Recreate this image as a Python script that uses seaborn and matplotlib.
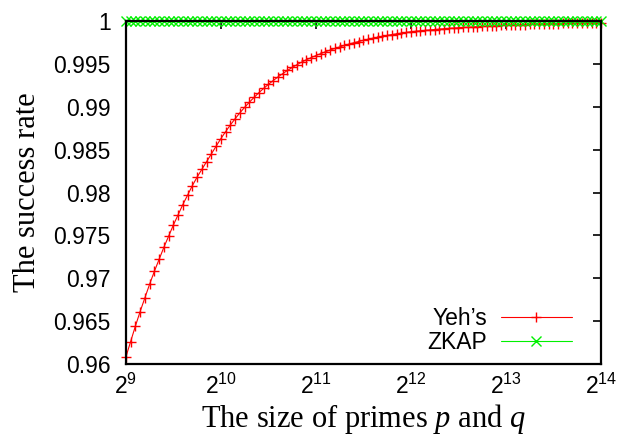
import numpy as np
import matplotlib
matplotlib.use("Agg")
import matplotlib.pyplot as plt
import seaborn as sns
from matplotlib.ticker import FixedLocator, FuncFormatter

# exponent grid of the prime size (2^9 .. 2^14, 101 samples)
exponent = np.linspace(9, 14, 101)
size = 2 ** exponent

yeh = [0.96080, 0.96260, 0.96440, 0.96610, 0.96770, 0.96930, 0.97080, 0.97220, 0.97360, 0.97490,
       0.97620, 0.97740, 0.97860, 0.97970, 0.98080, 0.98180, 0.98270, 0.98360, 0.98450, 0.98540,
       0.98628, 0.98710, 0.98788, 0.98860, 0.98929, 0.98993, 0.99053, 0.99110, 0.99164, 0.99214,
       0.99261, 0.99305, 0.99347, 0.99386, 0.99423, 0.99458, 0.99490, 0.99521, 0.99548, 0.99573,
       0.99597, 0.99620, 0.99641, 0.99661, 0.99680, 0.99698, 0.99715, 0.99732, 0.99747, 0.99761,
       0.99775, 0.99788, 0.99800, 0.99811, 0.99822, 0.99832, 0.99842, 0.99851, 0.99859, 0.99867,
       0.99875, 0.99881, 0.99886, 0.99891, 0.99896, 0.99901, 0.99905, 0.99910, 0.99914, 0.99918,
       0.99921, 0.99925, 0.99928, 0.99931, 0.99934, 0.99937, 0.99940, 0.99943, 0.99945, 0.99948,
       0.99950, 0.99952, 0.99955, 0.99957, 0.99959, 0.99960, 0.99962, 0.99964, 0.99966, 0.99967,
       0.99969, 0.99970, 0.99972, 0.99973, 0.99974, 0.99975, 0.99976, 0.99977, 0.99978, 0.99979,
       0.99980]
zkap = [1.0] * 101

x_ticks = [2 ** 9, 2 ** 10, 2 ** 11, 2 ** 12, 2 ** 13, 2 ** 14]
x_tick_labels = [r"$\mathregular{2^{9}}$", r"$\mathregular{2^{10}}$", r"$\mathregular{2^{11}}$",
                 r"$\mathregular{2^{12}}$", r"$\mathregular{2^{13}}$", r"$\mathregular{2^{14}}$"]
y_ticks = [0.96, 0.965, 0.97, 0.975, 0.98, 0.985, 0.99, 0.995, 1.0]

red = "#ff0000"
green = "#00f000"

sns.set_theme(style="white")
plt.rcParams["font.family"] = ["Liberation Sans", "DejaVu Sans"]
plt.rcParams["mathtext.fontset"] = "custom"
plt.rcParams["mathtext.rm"] = "Liberation Sans"
plt.rcParams["mathtext.it"] = "Liberation Serif:italic"

fig = plt.figure(figsize=(6.18, 4.36), dpi=100)
ax = fig.add_axes([0.2036, 0.1651, 0.7689, 0.7867])

sns.lineplot(x=size, y=yeh, ax=ax, color=red, linewidth=0.8, marker="+",
             markersize=7.5, markeredgewidth=1.0, markeredgecolor=red, markerfacecolor=red,
             label="Yeh\u2019s", clip_on=False, zorder=3)
sns.lineplot(x=size, y=zkap, ax=ax, color=green, linewidth=0.8, marker="x",
             markersize=7, markeredgewidth=1.0, markeredgecolor=green, markerfacecolor=green,
             label="ZKAP", clip_on=False, zorder=4)

ax.set_xscale("log", base=2)
ax.set_xlim(2 ** 9, 2 ** 14)
ax.set_ylim(0.96, 1.0)
ax.xaxis.set_major_locator(FixedLocator(x_ticks))
ax.set_xticklabels(x_tick_labels)
ax.xaxis.set_minor_locator(FixedLocator([]))
ax.set_yticks(y_ticks)
ax.yaxis.set_major_formatter(FuncFormatter(lambda v, p: f"{v:g}"))

ax.tick_params(which="both", direction="in", top=True, right=True, length=6, width=1.2,
               color="black", labelsize=16.5, labelcolor="black")
ax.tick_params(axis="y", pad=11)
ax.tick_params(axis="x", pad=7)
for s in ax.spines.values():
    s.set_linewidth(1.6)
    s.set_color("black")
    s.set_zorder(5)

ax.set_xlabel("The size of primes $p$ and $q$", family="Liberation Serif", fontsize=22,
              color="black", labelpad=2)
ax.set_ylabel("The success rate", family="Liberation Serif", fontsize=22, color="black",
              labelpad=8)

leg = ax.legend(loc="lower right", frameon=False, markerfirst=False, fontsize=16.5,
                handlelength=3.1, handletextpad=0.6, labelspacing=0.05, borderpad=0,
                borderaxespad=0, bbox_to_anchor=(0.939, 0.03), labelcolor="black")

fig.savefig("out.png", dpi=100)
